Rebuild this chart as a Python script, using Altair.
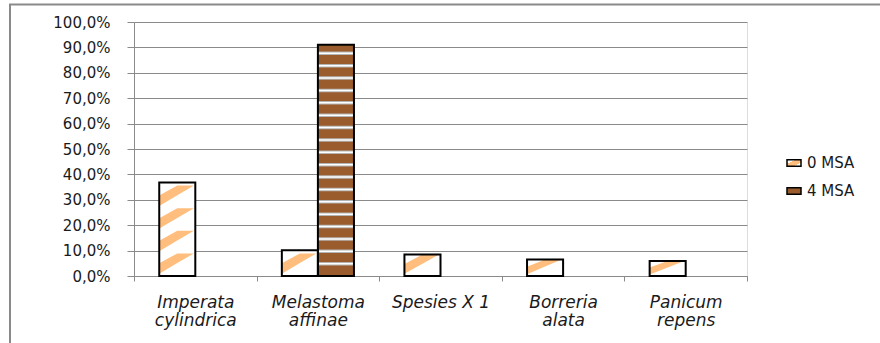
import altair as alt
import pandas as pd

# ---- data -------------------------------------------------------------
categories = ["Imperata cylindrica", "Melastoma affinae", "Spesies X 1",
              "Borreria alata", "Panicum repens"]
series = ["0 MSA", "4 MSA"]
msa0 = [0.368, 0.101, 0.085, 0.065, 0.059]
msa4 = [None, 0.910, None, None, None]
y_ticks = [i / 10 for i in range(11)]

# ---- style ------------------------------------------------------------
ORANGE = "#FFBE7D"
BROWN = "#9A5C2C"
GRID = "#8A8A8A"
TEXT = "#1A1A1A"
FONT = "DejaVu Sans"

W, H = 613, 254
PAD_OUT = 0.7                       # outer padding of the bar pair in a band
BAR_W = 1 / (2 + 2 * PAD_OUT)       # one bar width, in band units
HATCH = 0.089                       # vertical period of the diagonal hatch
BRICK = 0.0487                      # spacing of the lines on the 4 MSA bar

# ---- tables -------------------------------------------------------------
rows = []
for cat, a, b in zip(categories, msa0, msa4):
    for s, v in zip(series, (a, b)):
        if v is not None:
            rows.append({"cat": cat, "series": s, "value": v})
bars = pd.DataFrame(rows)

# orange hatch wedges inside the 0 MSA bars
wedge_rows = []
for i, v in enumerate(msa0):
    left = i + PAD_OUT * BAR_W
    n = max(1, int(v // HATCH))
    for k in range(n):
        b = k * HATCH
        h = min(HATCH, v - b)
        for u, lo, hi in ((0.0, 0.10, 0.56), (0.5, 0.57, 1.0), (0.96, 1.0, 1.0)):
            wedge_rows.append({"id": f"{i}-{k}", "x": left + u * BAR_W,
                               "y": b + lo * h, "y2": b + hi * h})
wedges = pd.DataFrame(wedge_rows)

# horizontal lines across the 4 MSA bars
brick_rows = []
for i, v in enumerate(msa4):
    if v is None:
        continue
    left = i + (PAD_OUT + 1) * BAR_W
    k = 1
    while k * BRICK < v - 0.02:
        brick_rows.append({"x": left, "x2": left + BAR_W, "y": k * BRICK})
        k += 1
bricks = pd.DataFrame(brick_rows)

# ---- encodings ------------------------------------------------------------
y_axis = alt.Axis(values=y_ticks, grid=True, gridColor=GRID, gridWidth=1,
                  domainColor=GRID, tickColor=GRID, tickSize=7,
                  labelExpr="replace(format(datum.value, '.1%'), '.', ',')",
                  labelFont=FONT, labelFontSize=15, labelColor=TEXT,
                  labelPadding=17)
y_scale = alt.Scale(domain=[0, 1], nice=False)


def y_enc(field):
    return alt.Y(field, type="quantitative", scale=y_scale, axis=y_axis, title=None)


x_band_scale = alt.Scale(paddingInner=0, paddingOuter=0)
x_axis = alt.Axis(tickBand="extent", tickSize=5, tickColor=GRID, domainColor=GRID,
                  grid=False, labelAngle=0, labelFont=FONT, labelFontSize=17,
                  labelFontStyle="italic", labelColor=TEXT, labelBaseline="top",
                  labelPadding=13, labelLineHeight=18.5, labelOverlap=False,
                  labelExpr="datum.label == 'Spesies X 1' ? datum.label : split(datum.label, ' ')")
x_off = alt.XOffset("series:N", sort=series,
                    scale=alt.Scale(paddingInner=0, paddingOuter=PAD_OUT))
x_q = alt.Scale(domain=[0, len(categories)], nice=False, zero=False)

hatch_legend = ("{gradient: 'linear', x1: 0, y1: 0, x2: 1, y2: 1, stops: ["
                "{offset: 0, color: 'white'}, {offset: 0.3, color: 'white'}, "
                f"{{offset: 0.3, color: '{ORANGE}'}}, {{offset: 0.72, color: '{ORANGE}'}}, "
                "{offset: 0.72, color: 'white'}, {offset: 1, color: 'white'}]}")

legend = alt.Legend(title=None, orient="none", legendX=652, legendY=133,
                    symbolType="M-1,-0.45L1,-0.45L1,0.45L-1,0.45Z", symbolSize=196,
                    symbolStrokeColor="black", symbolStrokeWidth=1.5,
                    labelFont=FONT, labelFontSize=15, labelColor=TEXT,
                    labelOffset=5, rowPadding=12, padding=0)

# ---- layers ---------------------------------------------------------------
frame = alt.Chart(pd.DataFrame({"k": [0]})).mark_rect(
    fillOpacity=0, stroke=GRID, strokeWidth=2
).encode(x=alt.value(-124), x2=alt.value(W + 300),
         y=alt.value(-17.5), y2=alt.value(H + 300))

bar_fill = alt.Chart(bars).mark_bar(strokeWidth=0).encode(
    x=alt.X("cat:N", sort=categories, scale=x_band_scale, axis=x_axis, title=None),
    xOffset=x_off,
    y=y_enc("value"),
    fill=alt.Fill("series:N", sort=series,
                  scale=alt.Scale(domain=series,
                                  range=[alt.ExprRef(hatch_legend), BROWN]),
                  legend=legend,
                  condition={"test": "datum.series === '0 MSA'", "value": "white"}),
)

wedge_layer = alt.Chart(wedges).mark_area(color=ORANGE, opacity=1).encode(
    x=alt.X("x:Q", scale=x_q, axis=None),
    y=y_enc("y"),
    y2="y2:Q",
    detail="id:N",
)

brick_gray = alt.Chart(bricks).mark_rule(color="#B4B4B4", strokeWidth=3.5).encode(
    x=alt.X("x:Q", scale=x_q, axis=None), x2="x2:Q", y=y_enc("y"))
brick_white = alt.Chart(bricks).mark_rule(color="white", strokeWidth=1.5).encode(
    x=alt.X("x:Q", scale=x_q, axis=None), x2="x2:Q", y=y_enc("y"))

bar_outline = alt.Chart(bars).mark_bar(fillOpacity=0, stroke="black", strokeWidth=2).encode(
    x=alt.X("cat:N", sort=categories, scale=x_band_scale, axis=None),
    xOffset=x_off,
    y=y_enc("value"),
)

chart = alt.layer(
    frame, bar_fill, wedge_layer, brick_gray, brick_white, bar_outline
).resolve_scale(x="independent").properties(
    width=W, height=H,
    padding={"left": 134, "top": 22, "right": 880 - 134 - W, "bottom": 343 - 22 - H},
    autosize=alt.AutoSizeParams(type="none"),
).configure_view(strokeWidth=0).configure(background="white")

chart.save("out.html", embed_options={"renderer": "svg", "actions": False})
